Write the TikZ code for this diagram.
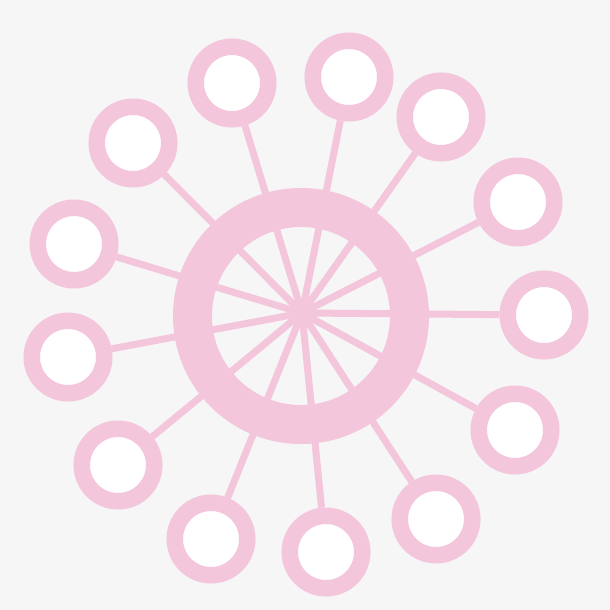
\documentclass[tikz,border=0pt]{standalone}
\usepackage{tikz}

\definecolor{petal}{HTML}{F3C6DC}
\definecolor{paper}{HTML}{F6F6F6}

\begin{document}
\begin{tikzpicture}[x=0.025cm,y=-0.025cm,
  bud/.style={draw=petal, circle, line width=0.4125cm, fill=white, inner sep=0pt, minimum size=1.8125cm},
  spoke/.style={draw=petal, line width=0.175cm}]
\fill[color=paper] (0,0) rectangle (610,610);
\useasboundingbox (0,0) rectangle (610,610);

\node[draw=petal, circle, line width=0.975cm, inner sep=0pt, minimum size=5.425cm] (wheel) at (301,316) {};
\coordinate (hub) at (302,313);

\node[bud] (a) at (232,83) {};
\node[bud] (b) at (349,77) {};
\node[bud] (c) at (441,117) {};
\node[bud] (d) at (518,202) {};
\node[bud] (e) at (544,315) {};
\node[bud] (f) at (515,430) {};
\node[bud] (g) at (436,519) {};
\node[bud] (h) at (326,552) {};
\node[bud] (i) at (211,539) {};
\node[bud] (j) at (118,465) {};
\node[bud] (k) at (68,357) {};
\node[bud] (l) at (74,244) {};
\node[bud] (m) at (133,143) {};

\path[spoke] (hub) -- (a);
\path[spoke] (hub) -- (b);
\path[spoke] (hub) -- (c);
\path[spoke] (hub) -- (d);
\path[spoke] (hub) -- (e);
\path[spoke] (hub) -- (f);
\path[spoke] (hub) -- (g);
\path[spoke] (hub) -- (h);
\path[spoke] (hub) -- (i);
\path[spoke] (hub) -- (j);
\path[spoke] (hub) -- (k);
\path[spoke] (hub) -- (l);
\path[spoke] (hub) -- (m);
\end{tikzpicture}
\end{document}
